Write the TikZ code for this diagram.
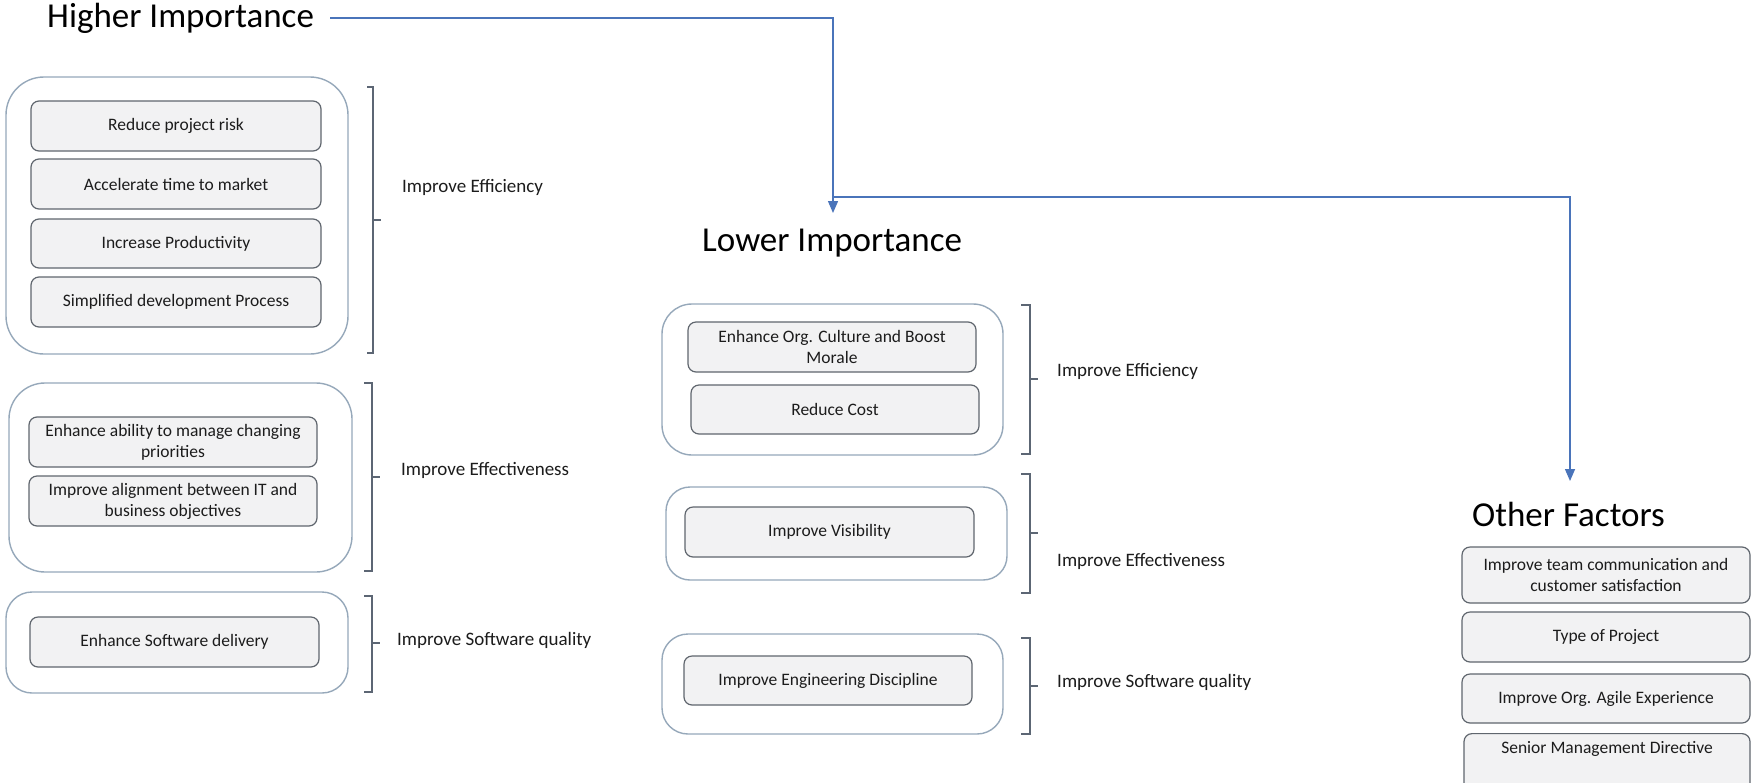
\documentclass[tikz,border=0pt]{standalone}
\usepackage{fontspec}
\setmainfont{Carlito}
\usetikzlibrary{arrows.meta}

\definecolor{linkblue}{RGB}{74,116,186}
\definecolor{groupedge}{RGB}{150,168,186}
\definecolor{itemedge}{RGB}{96,102,110}
\definecolor{itemfill}{RGB}{242,242,243}
\definecolor{braceedge}{RGB}{92,102,116}
\definecolor{inktext}{RGB}{28,28,28}

% bracket: hook x, bar x, top y, bottom y, tip y
\newcommand{\sidebrace}[5]{%
  \draw[bracket] (#1,#3) -- (#2,#3) -- (#2,#4) -- (#1,#4);
  \draw[bracket] (#2,#5) -- ++(8,0);}

\begin{document}
\begin{tikzpicture}[x=1pt,y=-1pt,
  heading/.style={inner sep=0pt, text=black, font=\fontsize{35}{41}\selectfont},
  groupbox/.style={draw=groupedge, line width=1.4pt, rounded corners=#1, inner sep=0pt},
  groupbox/.default=30pt,
  item/.style={draw=itemedge, fill=itemfill, line width=1.2pt, rounded corners=8pt,
    minimum width=288pt, minimum height=50pt, align=center, inner sep=2pt,
    text=inktext, font=\fontsize{17.5}{21}\selectfont},
  aim/.style={anchor=west, inner sep=0pt, text=inktext, font=\fontsize{19}{23}\selectfont},
  bracket/.style={draw=braceedge, line width=1.2pt},
  link/.style={draw=linkblue, line width=1.4pt, -{Triangle[length=12pt,width=10pt]}}
]
\useasboundingbox (0,0) rectangle (1752,782);
\clip (0,0) rectangle (1752,782);
\fill[white] (0,0) rectangle (1752,782);

% headings
\node[heading, anchor=west] (hi) at (47,18) {Higher Importance};
\node[heading, anchor=base west] (lo) at (702,251) {Lower Importance};
\node[heading, anchor=base west] (of) at (1472,526) {Other Factors};

% group frames
\node[groupbox=38pt, minimum width=342pt, minimum height=277pt] (g1) at (177,215.5) {};
\node[groupbox=36pt, minimum width=343pt, minimum height=189pt] (g2) at (180.5,477.5) {};
\node[groupbox=26pt, minimum width=342pt, minimum height=101pt] (g3) at (177,642.5) {};
\node[groupbox=30pt, minimum width=341pt, minimum height=151pt] (g4) at (832.5,379.5) {};
\node[groupbox=24pt, minimum width=341pt, minimum height=93pt] (g5) at (836.5,533.5) {};
\node[groupbox=26pt, minimum width=341pt, minimum height=100pt] (g6) at (832.5,684) {};

% higher importance items
\node[item, minimum width=290pt] (h1a) at (176,126) {Reduce project risk};
\node[item, minimum width=290pt] (h1b) at (176,184) {Accelerate time to market};
\node[item, minimum width=290pt, minimum height=49pt] (h1c) at (176,243.5) {Increase Productivity};
\node[item, minimum width=290pt] (h1d) at (176,302) {Simplified development Process};
\node[item] (h2a) at (173,442) {Enhance ability to manage changing\\priorities};
\node[item] (h2b) at (173,501) {Improve alignment between IT and\\business objectives};
\node[item, minimum width=289pt] (h3a) at (174.5,642) {Enhance Software delivery};

% lower importance items
\node[item] (l1a) at (832,347) {Enhance Org. Culture and Boost\\Morale};
\node[item, minimum height=49pt] (l1b) at (835,409.5) {Reduce Cost};
\node[item, minimum width=289pt] (l2a) at (829.5,532) {Improve Visibility};
\node[item, minimum height=49pt] (l3a) at (828,680.5) {Improve Engineering Discipline};

% other factors
\node[item, minimum height=56pt] (o1) at (1606,575) {Improve team communication and\\customer satisfaction};
\node[item] (o2) at (1606,637) {Type of Project};
\node[item, minimum height=49pt] (o3) at (1606,698.5) {Improve Org. Agile Experience};
\node[item, anchor=north, minimum width=286pt, minimum height=60pt] (o4) at (1607,733) {Senior Management Directive\\[12pt]\mbox{}};

% brackets and their labels
\sidebrace{367}{373}{87}{353}{220}
\node[aim] (e1) at (402,187) {Improve Efficiency};
\sidebrace{364}{372}{383}{571}{477}
\node[aim] (e2) at (401,470) {Improve Effectiveness};
\sidebrace{364}{372}{596}{692}{643}
\node[aim] (e3) at (397,640) {Improve Software quality};

\sidebrace{1021}{1030}{305}{454}{379}
\node[aim] (e4) at (1057,371) {Improve Efficiency};
\sidebrace{1021}{1030}{474}{593}{533}
\node[aim] (e5) at (1057,561) {Improve Effectiveness};
\sidebrace{1021}{1030}{638}{734}{686}
\node[aim] (e6) at (1057,682) {Improve Software quality};

% flow between the headings
\coordinate (loTip) at (833,213);
\coordinate (split) at (833,197);
\coordinate (ofTip) at (1570,481);
\draw[link] ([xshift=16pt]hi.east) -| (loTip);
\draw[link] (split) -| (ofTip);
\end{tikzpicture}
\end{document}
